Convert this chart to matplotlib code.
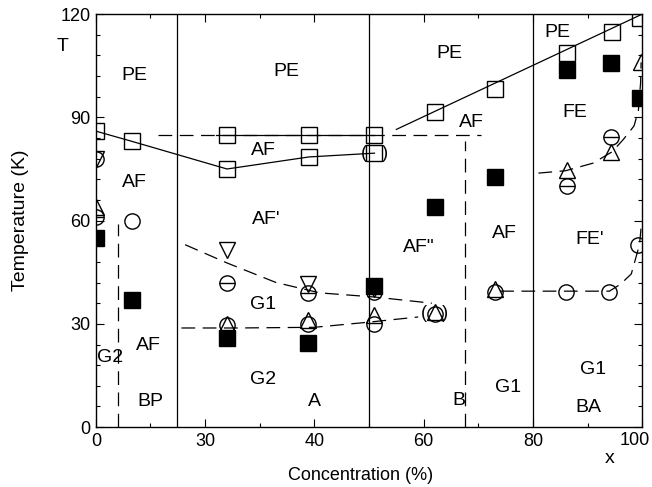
import numpy as np
import matplotlib
matplotlib.use('Agg')
import matplotlib.pyplot as plt
from matplotlib.ticker import FixedLocator

plt.rcParams['font.family'] = ['Liberation Sans', 'DejaVu Sans']

# piecewise x axis: each of these segments gets the same width
x_breaks = [0, 30, 40, 60, 80, 100]
x_ticks = [0, 30, 40, 60, 80, 100]
x_minor = [15, 35, 50, 70, 90]

# open squares
sq_x = [0, 10, 32, 32, 39.5, 39.5, 51, 51, 62, 73, 86.2, 94.4, 99.6]
sq_T = [86, 83, 85, 75, 85, 78.5, 85, 79.6, 91.6, 98.2, 108.7, 114.8, 119]
# filled squares
fsq_x = [0, 10, 32, 39.4, 51, 62, 73, 86.2, 94.2, 99.6]
fsq_T = [55, 37, 26, 24.5, 41, 64, 72.7, 103.8, 105.8, 95.6]
# open circles
ci_x = [0, 0, 10, 32, 32, 39.4, 39.4, 51, 51, 62, 73, 86, 94, 99.3, 86.2, 94.2]
ci_T = [78, 61, 60, 42, 29.6, 39, 30, 39.3, 30, 33, 39.3, 39.3, 39.3, 53, 70, 84.4]
# circles crossed by a bar
bar_x = [0, 32, 39.4, 51, 86.2, 94.2]
bar_T = [61, 42, 39, 39.3, 70, 84.4]
# triangles
tu_x = [0, 32, 39.4, 51, 62, 73, 86.2, 94.2, 99.8]
tu_T = [64, 30, 31, 32.5, 33.5, 40, 74.7, 80, 106]
td_x = [0, 32, 39.4, 51]
td_T = [78, 51.5, 41.5, 40]

# phase boundaries
solid1_x = [0, 10, 32, 39.5, 51]
solid1_T = [86, 83, 75, 78.5, 79.6]
solid2_x = [31, 51]
solid2_T = [85, 85]
solid3_x = [55, 100]
solid3_T = [86.5, 120]
vlines_solid = [22.3, 50, 80]
dash_h_x = [17, 70.5]
dash_h_T = [85, 85]
dash_v1_x = [6, 6]
dash_v1_T = [0, 59]
dash_v2_x = [67.5, 67.5]
dash_v2_T = [0, 83]
g1_x = [24.5, 32, 36.5, 41, 51, 61.5]
g1_T = [53, 47.7, 42, 39, 37.8, 36]
g2_x = [23.5, 33, 40, 50, 59]
g2_T = [28.8, 28.8, 29, 30.5, 32]
fe_x = [81, 86, 91, 94.5, 96.5, 98.5, 99.3, 99.7, 99.8]
fe_T = [73.8, 74.5, 76.7, 80, 83.5, 87.5, 92, 100, 106]
fe2_x = [74, 94, 96, 98, 99.5, 99.8]
fe2_T = [39.5, 39.5, 41.5, 44.5, 53, 58]

# region labels
lab_txt = ['PE', 'PE', 'PE', 'PE', 'AF', 'AF', 'AF', "AF'", 'G1', 'AF', 'G2', 'BP',
           'G2', 'AF"', 'A', 'B', 'AF', 'G1', 'FE', "FE'", 'G1', 'BA']
lab_x = [10.7, 37.4, 64.7, 84.5, 10.7, 35.3, 68.7, 35.6, 35.3, 14.3, 3.9, 14.9,
         35.3, 59.1, 40, 66.5, 74.7, 75.5, 87.6, 90.3, 91, 90.2]
lab_T = [102.3, 103.2, 108.7, 114.8, 71.2, 80.5, 88.4, 60.2, 35.5, 23.8, 20.3, 7.3,
         13.7, 52.3, 7.3, 7.8, 56.4, 11.6, 91.3, 54.4, 16.6, 5.8]
paren_x = [51, 62]
paren_T = [79.6, 33]


def fwd(x):
    return np.interp(x, x_breaks, np.arange(len(x_breaks)))


def inv(p):
    return np.interp(p, np.arange(len(x_breaks)), x_breaks)


fig = plt.figure(figsize=(6.52, 4.87), dpi=100)
ax = fig.add_axes([0.147, 0.123, 0.838, 0.848])
ax.set_xscale('function', functions=(fwd, inv))
ax.set_xlim(0, 100)
ax.set_ylim(0, 120)

lw = 0.9
for xv in vlines_solid:
    ax.axvline(xv, color='black', lw=lw)
ax.plot(solid1_x, solid1_T, color='black', lw=lw)
ax.plot(solid2_x, solid2_T, color='black', lw=lw)
ax.plot(solid3_x, solid3_T, color='black', lw=lw)
for xs, ts in [(dash_h_x, dash_h_T), (dash_v1_x, dash_v1_T), (dash_v2_x, dash_v2_T),
               (g1_x, g1_T), (g2_x, g2_T), (fe_x, fe_T), (fe2_x, fe2_T)]:
    ax.plot(xs, ts, color='black', lw=lw, dashes=(11, 6))

ms = 11
ax.plot(sq_x, sq_T, 's', ms=ms, mfc='none', mec='black', mew=1)
ax.plot(fsq_x, fsq_T, 's', ms=ms, mfc='black', mec='black', mew=1)
ax.plot(ci_x, ci_T, 'o', ms=ms, mfc='none', mec='black', mew=1)
ax.plot(bar_x, bar_T, '_', ms=ms, mec='black', mew=1)
ax.plot(tu_x, tu_T, '^', ms=ms, mfc='none', mec='black', mew=1)
ax.plot(td_x, td_T, 'v', ms=ms, mfc='none', mec='black', mew=1)

for t, xv, yv in zip(lab_txt, lab_x, lab_T):
    ax.text(xv, yv, t, fontsize=14, ha='center', va='center')
for xv, yv in zip(paren_x, paren_T):
    ax.text(xv, yv, '(   )', fontsize=13, ha='center', va='center')

ax.text(-0.06, 0.922, 'T', transform=ax.transAxes, fontsize=14, ha='center', va='center')
ax.text(0.941, -0.075, 'x', transform=ax.transAxes, fontsize=14, ha='center', va='center')

ax.xaxis.set_major_locator(FixedLocator(x_ticks))
ax.xaxis.set_minor_locator(FixedLocator(x_minor))
# last label drawn by hand so that it stays inside the figure
ax.set_xticklabels([str(v) for v in x_ticks[:-1]] + [''])
ax.text(1.0145, -0.012, str(x_ticks[-1]), transform=ax.transAxes, fontsize=13,
        ha='right', va='top')
ax.yaxis.set_major_locator(FixedLocator(np.arange(0, 121, 30)))
ax.yaxis.set_minor_locator(FixedLocator(np.arange(0, 121, 6)))
ax.tick_params(which='both', direction='in', top=True, right=True, labelsize=13, width=0.8)
ax.tick_params(which='major', length=6, pad=4)
ax.tick_params(which='minor', length=3)
for s in ax.spines.values():
    s.set_linewidth(1.0)

ax.set_xlabel('Concentration (%)', fontsize=13)
ax.set_ylabel('Temperature (K)', fontsize=14)
ax.xaxis.set_label_coords(0.484, -0.097)
ax.yaxis.set_label_coords(-0.122, 0.5)

fig.savefig('out.png', dpi=100)
